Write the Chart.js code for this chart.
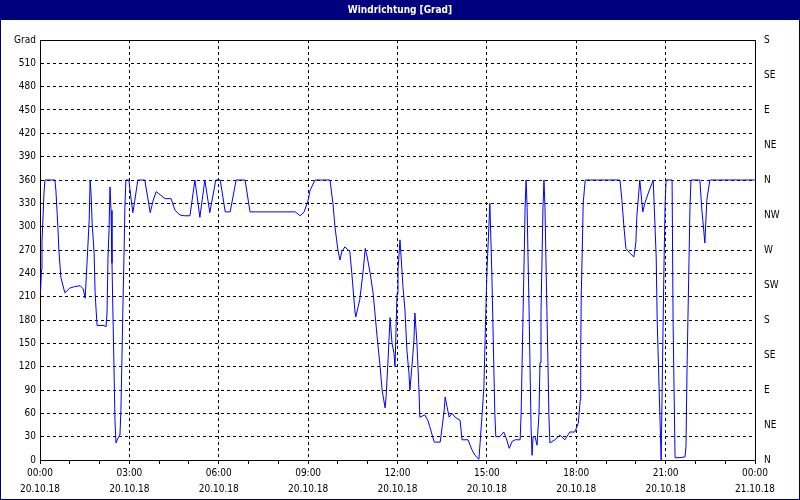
<!DOCTYPE html>
<html>
<head>
<meta charset="utf-8">
<script src="https://cdn.jsdelivr.net/npm/chart.js@4.4.1/dist/chart.umd.min.js"></script>
<style>
  html, body { margin: 0; padding: 0; background: #fff; }
  #wrap { width: 800px; height: 500px; }
</style>
</head>
<body>
<div id="wrap"><canvas id="chart" width="800" height="500"></canvas></div>
<script>
// minutes since 20.10.18 00:00 and wind direction in degrees
const minutes = [1, 3, 4, 8, 10, 30, 32, 36, 38, 42, 46, 50, 60, 70, 81, 87, 91, 95, 99, 101,
  103, 105, 109, 111, 113, 115, 129, 133, 135, 137, 139, 141, 143, 145, 147, 149, 151, 153, 157, 161,
  163, 165, 167, 169, 171, 173, 179, 183, 187, 191, 197, 211, 222, 228, 234, 242, 252, 264, 272, 282,
  290, 302, 312, 322, 332, 342, 354, 363, 373, 383, 395, 413, 423, 514, 524, 532, 540, 544, 554, 584,
  590, 594, 600, 604, 608, 614, 624, 628, 634, 636, 644, 651, 655, 659, 665, 671, 679, 685, 689, 695,
  697, 701, 705, 709, 713, 715, 719, 721, 725, 729, 731, 735, 739, 743, 745, 749, 753, 755, 759, 763,
  765, 775, 781, 785, 794, 806, 810, 814, 816, 820, 824, 830, 836, 846, 850, 862, 870, 876, 884, 890,
  894, 898, 900, 904, 906, 910, 912, 914, 916, 918, 926, 934, 939, 945, 951, 957, 967, 969, 971, 973,
  975, 977, 979, 981, 983, 985, 987, 989, 991, 993, 997, 1001, 1005, 1007, 1009, 1011, 1013, 1015, 1017, 1019,
  1021, 1023, 1025, 1027, 1037, 1047, 1057, 1067, 1077, 1084, 1088, 1089, 1090, 1092, 1094, 1098, 1168, 1172, 1176, 1180,
  1188, 1196, 1200, 1202, 1208, 1214, 1218, 1225, 1235, 1241, 1243, 1247, 1251, 1253, 1255, 1257, 1259, 1261, 1273, 1275,
  1277, 1279, 1289, 1299, 1301, 1303, 1305, 1307, 1309, 1311, 1329, 1333, 1335, 1339, 1343, 1349, 1440];
const grad = [215, 245, 280, 343, 360, 360, 347, 300, 270, 235, 225, 215, 221, 223, 224, 220, 208, 257, 308, 360,
  340, 305, 266, 215, 193, 173, 173, 171, 189, 261, 296, 351, 321, 253, 184, 120, 51, 22, 28, 32,
  64, 129, 197, 257, 325, 360, 360, 338, 318, 334, 360, 360, 318, 334, 345, 341, 336, 336, 321, 315,
  314, 314, 360, 312, 360, 318, 360, 360, 319, 319, 360, 360, 319, 319, 314, 319, 334, 347, 360, 360,
  330, 300, 270, 257, 268, 274, 268, 240, 193, 184, 206, 244, 272, 261, 240, 214, 158, 120, 90, 67,
  81, 129, 183, 150, 137, 120, 214, 244, 283, 244, 223, 193, 141, 112, 90, 120, 152, 189, 152, 94,
  55, 58, 51, 43, 23, 23, 43, 64, 81, 68, 55, 60, 55, 51, 26, 26, 13, 6, 1, 55,
  94, 193, 240, 300, 330, 240, 180, 120, 60, 30, 30, 36, 28, 15, 24, 26, 26, 60, 125, 193,
  257, 325, 360, 325, 257, 193, 116, 43, 6, 30, 30, 19, 60, 125, 189, 257, 325, 360, 325, 257,
  189, 125, 55, 22, 26, 32, 26, 36, 36, 47, 77, 137, 210, 266, 330, 360, 360, 334, 300, 272,
  266, 261, 279, 313, 360, 319, 330, 343, 360, 261, 180, 90, 0, 90, 180, 261, 330, 360, 360, 180,
  90, 3, 3, 4, 17, 112, 184, 253, 324, 360, 360, 321, 308, 279, 334, 360, 360];

const xTicks = [0, 180, 360, 540, 720, 900, 1080, 1260, 1440];
const timeLabels = ["00:00", "03:00", "06:00", "09:00", "12:00", "15:00", "18:00", "21:00", "00:00"];
const dateLabels = ["20.10.18", "20.10.18", "20.10.18", "20.10.18", "20.10.18", "20.10.18", "20.10.18", "20.10.18", "21.10.18"];
const compass = ["N", "NE", "E", "SE", "S", "SW", "W", "NW"];

const navy = "#00007f";
Chart.defaults.font.family = "'DejaVu Sans Condensed', 'Liberation Sans', sans-serif";
Chart.defaults.font.size = 10;
Chart.defaults.color = "#000";

// title bar, outer frame and top edge of the plot
const frame = {
  id: "frame",
  beforeDraw(chart) {
    const c = chart.ctx;
    c.save();
    c.fillStyle = "#fff";
    c.fillRect(0, 0, chart.width, chart.height);
    c.fillStyle = navy;
    c.fillRect(0, 0, chart.width, 20);
    c.strokeStyle = navy;
    c.lineWidth = 1;
    c.strokeRect(0.5, 0.5, chart.width - 1, chart.height - 1);
    c.restore();
  },
  afterDraw(chart) {
    const a = chart.chartArea, c = chart.ctx;
    c.save();
    c.strokeStyle = "#000";
    c.lineWidth = 1;
    c.beginPath();
    c.moveTo(a.left, Math.round(a.top) + 0.5);
    c.lineTo(a.right, Math.round(a.top) + 0.5);
    c.stroke();
    c.restore();
  }
};

new Chart(document.getElementById("chart"), {
  type: "line",
  data: {
    datasets: [{
      data: minutes.map((m, i) => ({ x: m, y: grad[i] })),
      borderColor: "#0000ff",
      borderWidth: 1,
      pointRadius: 0,
      tension: 0
    }]
  },
  options: {
    responsive: false,
    animation: false,
    plugins: {
      legend: { display: false },
      tooltip: { enabled: false },
      title: {
        display: true,
        text: "Windrichtung [Grad]",
        color: "#fff",
        font: { size: 10, weight: "bold", lineHeight: 1.2 },
        padding: { top: 4, bottom: 24 }
      }
    },
    scales: {
      x: {
        type: "linear",
        min: 0,
        max: 1440,
        afterFit: s => { s.height = 40; },
        ticks: {
          stepSize: 60,
          autoSkip: false,
          maxRotation: 0,
          padding: 1,
          font: { lineHeight: 1.6 },
          callback: v => {
            const i = xTicks.indexOf(v);
            return i < 0 ? "" : [timeLabels[i], dateLabels[i]];
          }
        },
        grid: {
          color: c => (c.tick && c.tick.value % 180 === 0) ? "#000" : "rgba(0,0,0,0)",
          tickColor: "#000",
          tickLength: 4
        },
        border: { display: true, color: "#000", dash: [3, 3] }
      },
      y: {
        min: 0,
        max: 540,
        afterFit: s => { s.width = 40; },
        ticks: {
          stepSize: 30,
          padding: 4,
          callback: v => v === 540 ? "Grad" : v
        },
        grid: { color: "#000", drawTicks: false },
        border: { display: true, color: "#000", dash: [3, 3] }
      },
      y2: {
        position: "right",
        min: 0,
        max: 540,
        afterFit: s => { s.width = 45; },
        ticks: {
          stepSize: 45,
          padding: 9,
          callback: v => compass[(v / 45) % 8]
        },
        grid: { drawOnChartArea: false, drawTicks: false },
        border: { display: true, color: "#000" }
      }
    }
  },
  plugins: [frame]
});
</script>
</body>
</html>
